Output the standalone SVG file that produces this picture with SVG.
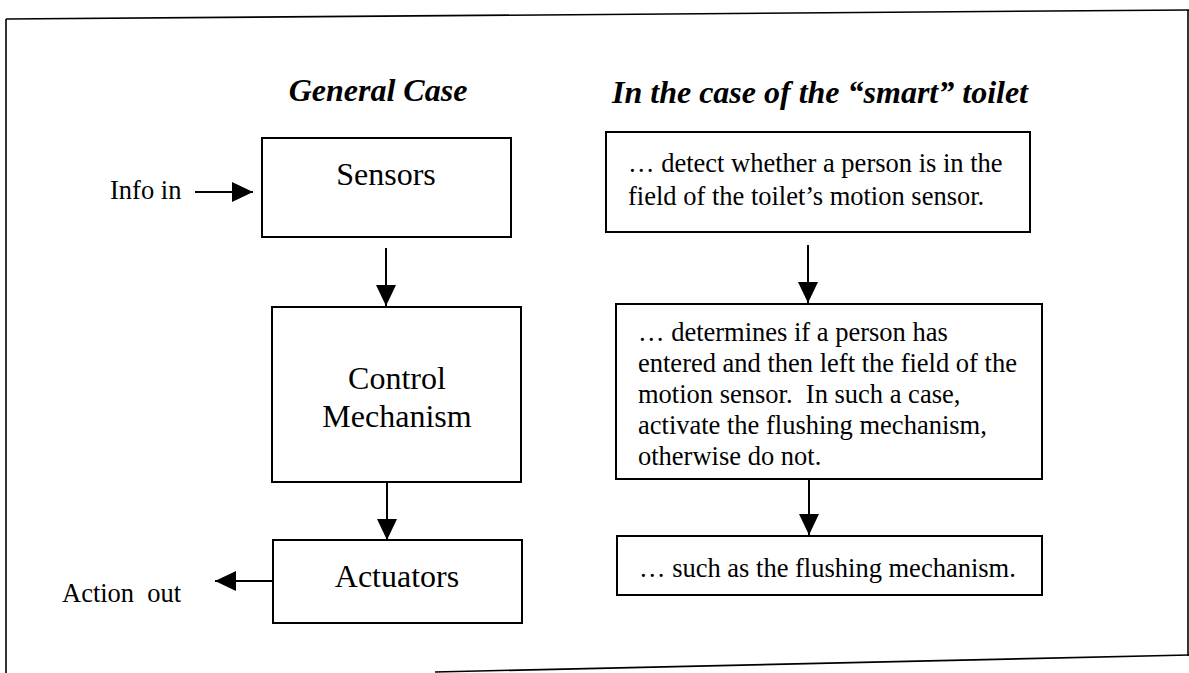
<svg xmlns="http://www.w3.org/2000/svg" width="1189" height="673" viewBox="0 0 1189 673">
<style>
.bg{fill:#fff}
.box{fill:#fff;stroke:#000;stroke-width:2}
.frame{fill:none;stroke:#000;stroke-width:1.6}
.conn{fill:none;stroke:#000;stroke-width:2;marker-end:url(#ah)}
.t{font-family:"Liberation Serif","Times New Roman",serif;fill:#000}
.h{font-weight:bold;font-style:italic;font-size:32px}
.big{font-size:32px;text-anchor:middle}
.body{font-size:26.5px}
</style>
<defs>
<marker id="ah" markerUnits="userSpaceOnUse" markerWidth="22" markerHeight="22" refX="21" refY="10" orient="auto" viewBox="0 0 22 22">
<path d="M0,0 L21,10 L0,20 Z" fill="#000"/>
</marker>
</defs>
<rect class="bg" x="0" y="0" width="1189" height="673"/>
<g id="frame">
<path class="frame" d="M6,19 V673"/>
<path class="frame" d="M6,19 L1189,10"/>
<path class="frame" d="M435,672 L1189,655"/>
<path class="frame" d="M1188,10 V656" stroke-width="1"/>
</g>
<g id="titles">
<text class="t h" x="378" y="101" text-anchor="middle">General Case</text>
<text class="t h" x="612" y="103">In the case of the “smart” toilet</text>
</g>
<g id="labels">
<text class="t body" x="110" y="199">Info in</text>
<text class="t body" x="62" y="602" xml:space="preserve">Action  out</text>
</g>
<g id="sensors">
<rect class="box" x="262" y="138" width="249" height="99"/>
<text class="t big" x="386" y="185">Sensors</text>
</g>
<g id="control">
<rect class="box" x="272" y="307" width="249" height="175"/>
<text class="t big" x="397" y="389">Control</text>
<text class="t big" x="397" y="427">Mechanism</text>
</g>
<g id="actuators">
<rect class="box" x="273" y="540" width="249" height="83"/>
<text class="t big" x="397" y="587">Actuators</text>
</g>
<g id="smart-sensors">
<rect class="box" x="606" y="132" width="424" height="100"/>
<text class="t body" x="628" y="172">… detect whether a person is in the</text>
<text class="t body" x="628" y="205">field of the toilet’s motion sensor.</text>
</g>
<g id="smart-control">
<rect class="box" x="616" y="304" width="426" height="175"/>
<text class="t body" x="638" y="341">… determines if a person has</text>
<text class="t body" x="638" y="372">entered and then left the field of the</text>
<text class="t body" x="638" y="403" xml:space="preserve">motion sensor.  In such a case,</text>
<text class="t body" x="638" y="434">activate the flushing mechanism,</text>
<text class="t body" x="638" y="465">otherwise do not.</text>
</g>
<g id="smart-actuators">
<rect class="box" x="617" y="536" width="425" height="59"/>
<text class="t body" x="639" y="577">… such as the flushing mechanism.</text>
</g>
<g id="connectors">
<path class="conn" d="M195,192 H253"/>
<path class="conn" d="M386,248 V306"/>
<path class="conn" d="M387,482 V540"/>
<path class="conn" d="M272,581 H215"/>
<path class="conn" d="M808,245 V303"/>
<path class="conn" d="M809,479 V535"/>
</g>
</svg>
